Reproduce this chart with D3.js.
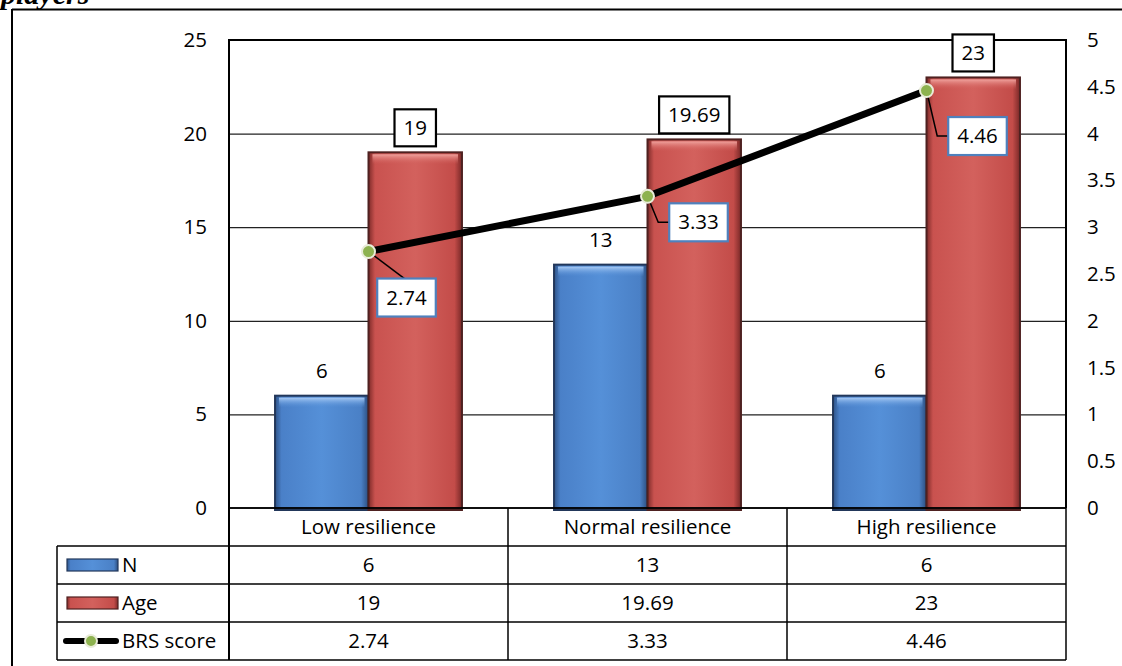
<!DOCTYPE html>
<html><head><meta charset="utf-8">
<script src="https://cdn.jsdelivr.net/npm/d3@7"></script>
<style>body{margin:0;background:#fff} svg{display:block}</style>
</head><body>
<svg id="chart" width="1122" height="666"></svg>
<script>
// ---- data ----
const categories = ["Low resilience", "Normal resilience", "High resilience"];
const nValues = [6, 13, 6];
const ageValues = [19, 19.69, 23];
const brsValues = [2.74, 3.33, 4.46];
const leftTicks = [0, 5, 10, 15, 20, 25];
const rightTicks = [0, 0.5, 1, 1.5, 2, 2.5, 3, 3.5, 4, 4.5, 5];
const seriesNames = ["N", "Age", "BRS score"];
const titleText = "players";

// ---- layout ----
const W = 1122, H = 666;
const plot = {left: 229, right: 1066, top: 40, bottom: 508};
const rowH = 38;
const tableLeft = 57;
const FONT = "'Open Sans', sans-serif";
const FS = 20.5;

const svg = d3.select("#chart");
const defs = svg.append("defs");

function hGrad(id, stops) {
  const g = defs.append("linearGradient").attr("id", id).attr("x1", "0").attr("x2", "1").attr("y1", "0").attr("y2", "0");
  stops.forEach(s => g.append("stop").attr("offset", s[0]).attr("stop-color", s[1]));
}
function vGrad(id, stops) {
  const g = defs.append("linearGradient").attr("id", id).attr("x1", "0").attr("x2", "0").attr("y1", "0").attr("y2", "1");
  stops.forEach(s => g.append("stop").attr("offset", s[0]).attr("stop-color", s[1]).attr("stop-opacity", s[2] == null ? 1 : s[2]));
}
hGrad("gBlue", [["0%", "#2f5488"], ["7%", "#4a80c8"], ["50%", "#5590d8"], ["92%", "#4a80c6"], ["100%", "#2c4d7e"]]);
hGrad("gRed", [["0%", "#7e2b29"], ["7%", "#c9524f"], ["50%", "#d3615d"], ["92%", "#c34c49"], ["100%", "#7a2928"]]);
vGrad("gBlueTop", [["0%", "#a9cbf5"], ["100%", "#5590d8", 0]]);
vGrad("gRedTop", [["0%", "#f0a29d"], ["100%", "#d3615d", 0]]);

// outer border & title
svg.append("text").attr("x", 1).attr("y", 4).attr("font-family", "'Liberation Serif', serif")
  .attr("font-style", "italic").attr("font-weight", "bold").attr("font-size", 30).text(titleText);
svg.append("line").attr("x1", 12).attr("x2", W).attr("y1", 9.5).attr("y2", 9.5).attr("stroke", "#000").attr("stroke-width", 2);
svg.append("line").attr("x1", 12).attr("x2", 12).attr("y1", 9).attr("y2", H).attr("stroke", "#000").attr("stroke-width", 2);

// scales
const x0 = d3.scaleBand().domain(categories).range([plot.left, plot.right]).paddingInner(0.33).paddingOuter(0.165);
const x1 = d3.scaleBand().domain(["N", "Age"]).range([0, x0.bandwidth()]);
const colX = d3.scaleBand().domain(categories).range([plot.left, plot.right]);
const yL = d3.scaleLinear().domain([0, 25]).range([plot.bottom, plot.top]);
const yR = d3.scaleLinear().domain([0, 5]).range([plot.bottom, plot.top]);

// gridlines
svg.append("g").selectAll("line").data(leftTicks.filter(t => t > 0 && t < 25)).join("line")
  .attr("x1", plot.left).attr("x2", plot.right).attr("y1", d => yL(d) + 0.5).attr("y2", d => yL(d) + 0.5)
  .attr("stroke", "#222").attr("stroke-width", 1.2);

// left axis
const axL = svg.append("g").attr("transform", `translate(${plot.left - 22},0)`)
  .call(d3.axisLeft(yL).tickValues(leftTicks).tickSize(0).tickPadding(0).tickFormat(d3.format("d")));
axL.select(".domain").remove();
axL.selectAll("text").attr("font-family", FONT).attr("font-size", FS).attr("fill", "#000");

// right axis
const axR = svg.append("g").attr("transform", `translate(${plot.right + 21},0)`)
  .call(d3.axisRight(yR).tickValues(rightTicks).tickSize(0).tickPadding(0).tickFormat(d => String(d)));
axR.select(".domain").remove();
axR.selectAll("text").attr("font-family", FONT).attr("font-size", FS).attr("fill", "#000");

// bars
const barData = [];
categories.forEach((c, i) => {
  barData.push({cat: c, s: "N", v: nValues[i]});
  barData.push({cat: c, s: "Age", v: ageValues[i]});
});
const barG = svg.append("g");
barData.forEach(d => {
  const bx = x0(d.cat) + x1(d.s), bw = x1.bandwidth(), by = yL(d.v), bh = plot.bottom - by;
  const isN = d.s === "N";
  barG.append("rect").attr("x", bx).attr("y", by).attr("width", bw).attr("height", bh + 2)
    .attr("fill", isN ? "url(#gBlue)" : "url(#gRed)")
    .attr("stroke", isN ? "#22375a" : "#4e2120").attr("stroke-width", 2);
  barG.append("rect").attr("x", bx + 4).attr("y", by + 2).attr("width", bw - 8).attr("height", 10)
    .attr("fill", isN ? "url(#gBlueTop)" : "url(#gRedTop)");
});

// plot frame
svg.append("path")
  .attr("d", `M${plot.left},${plot.bottom}V${plot.top}H${plot.right}V${plot.bottom}`)
  .attr("fill", "none").attr("stroke", "#000").attr("stroke-width", 2);
svg.append("line").attr("x1", plot.left).attr("x2", plot.right).attr("y1", plot.bottom).attr("y2", plot.bottom)
  .attr("stroke", "#000").attr("stroke-width", 1.5);

// N labels
svg.append("g").selectAll("text").data(categories).join("text")
  .attr("x", c => x0(c) + x1("N") + x1.bandwidth() / 2)
  .attr("y", (c, i) => yL(nValues[i]) - 18)
  .attr("text-anchor", "middle").attr("font-family", FONT).attr("font-size", FS).text((c, i) => nValues[i]);

// label box helper
function boxLabel(g, cx, cy, txt, stroke, h) {
  const t = g.append("text").attr("x", cx).attr("y", cy).attr("dy", "0.35em").attr("text-anchor", "middle")
    .attr("font-family", FONT).attr("font-size", FS).text(txt);
  const w = t.node().getComputedTextLength() + 18;
  g.insert("rect", "text").attr("x", cx - w / 2).attr("y", cy - h / 2).attr("width", w).attr("height", h)
    .attr("fill", "#fff").attr("stroke", stroke).attr("stroke-width", 2.2);
  return {left: cx - w / 2, right: cx + w / 2, top: cy - h / 2, bottom: cy + h / 2, cx, cy};
}

// Age labels
categories.forEach((c, i) => {
  const g = svg.append("g");
  const cx = x0(c) + x1("Age") + x1.bandwidth() / 2;
  boxLabel(g, cx, yL(ageValues[i]) - 6 - 18.5, ageValues[i], "#000", 37);
});

// BRS line
const pts = categories.map((c, i) => [colX(c) + colX.bandwidth() / 2, yR(brsValues[i])]);
svg.append("path").attr("d", d3.line()(pts)).attr("fill", "none").attr("stroke", "#000")
  .attr("stroke-width", 7).attr("stroke-linejoin", "round");

// BRS labels with leader lines
const brsLabelOffsets = [[38, 46, "straight"], [51, 26, "elbow"], [51, 45.5, "elbow"]];
pts.forEach((p, i) => {
  const g = svg.append("g");
  const [dx, dy, kind] = brsLabelOffsets[i];
  const leader = g.append("path").attr("fill", "none").attr("stroke", "#000").attr("stroke-width", 1.5);
  const b = boxLabel(g, p[0] + dx, p[1] + dy, brsValues[i], "#4f81bd", 38);
  if (kind === "straight") leader.attr("d", `M${p[0]},${p[1]}L${b.cx - 2},${b.top}`);
  else leader.attr("d", `M${p[0]},${p[1]}L${b.left - 11},${b.cy}H${b.left}`);
});
svg.append("g").selectAll("circle").data(pts).join("circle")
  .attr("cx", d => d[0]).attr("cy", d => d[1]).attr("r", 6.5)
  .attr("fill", "#8db24f").attr("stroke", "#e9ecd9").attr("stroke-width", 2);

// ---- data table ----
const tg = svg.append("g");
const rowsY = [plot.bottom, plot.bottom + rowH, plot.bottom + 2 * rowH, plot.bottom + 3 * rowH, plot.bottom + 4 * rowH];
tg.append("line").attr("x1", plot.left).attr("x2", plot.right).attr("y1", rowsY[0]).attr("y2", rowsY[0]).attr("stroke", "#000").attr("stroke-width", 1.5);
for (let r = 1; r < rowsY.length; r++) {
  tg.append("line").attr("x1", tableLeft).attr("x2", plot.right).attr("y1", rowsY[r]).attr("y2", rowsY[r])
    .attr("stroke", "#000").attr("stroke-width", 1.5);
}
const vx = [plot.left, ...categories.map(c => colX(c) + colX.bandwidth())];
vx.forEach((x, k) => {
  tg.append("line").attr("x1", x).attr("x2", x).attr("y1", rowsY[0]).attr("y2", rowsY[4])
    .attr("stroke", "#000").attr("stroke-width", k === 0 ? 2 : 1.5);
});
tg.append("line").attr("x1", tableLeft).attr("x2", tableLeft).attr("y1", rowsY[1]).attr("y2", rowsY[4]).attr("stroke", "#000").attr("stroke-width", 1.5);

tg.selectAll("text.h").data(categories).join("text").attr("class", "h")
  .attr("x", c => colX(c) + colX.bandwidth() / 2).attr("y", rowsY[0] + rowH / 2).attr("dy", "0.35em")
  .attr("text-anchor", "middle").attr("font-family", FONT).attr("font-size", FS).text(c => c);

const rowsVals = [nValues, ageValues, brsValues];
rowsVals.forEach((vals, r) => {
  const cy = rowsY[r + 1] + rowH / 2;
  categories.forEach((c, i) => {
    tg.append("text").attr("x", colX(c) + colX.bandwidth() / 2).attr("y", cy).attr("dy", "0.35em")
      .attr("text-anchor", "middle").attr("font-family", FONT).attr("font-size", FS).text(vals[i]);
  });
  tg.append("text").attr("x", 122).attr("y", cy).attr("dy", "0.35em")
    .attr("font-family", FONT).attr("font-size", FS).text(seriesNames[r]);
  if (r < 2) {
    tg.append("rect").attr("x", 67).attr("y", cy - 6).attr("width", 51).attr("height", 12)
      .attr("fill", r === 0 ? "url(#gBlue)" : "url(#gRed)").attr("stroke", r === 0 ? "#22375a" : "#4e2120").attr("stroke-width", 1.2);
  } else {
    tg.append("line").attr("x1", 66).attr("x2", 116).attr("y1", cy).attr("y2", cy)
      .attr("stroke", "#000").attr("stroke-width", 6).attr("stroke-linecap", "round");
    tg.append("circle").attr("cx", 91).attr("cy", cy).attr("r", 6).attr("fill", "#8db24f").attr("stroke", "#e9ecd9").attr("stroke-width", 2);
  }
});
</script>
</body></html>
